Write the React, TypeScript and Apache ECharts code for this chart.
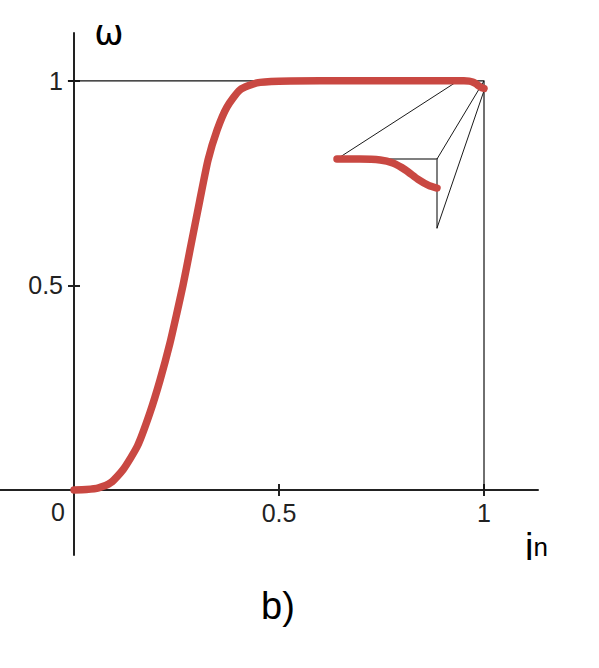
import React, { useEffect, useRef } from "react";
import * as echarts from "echarts";

// normalized current i_n and speed ω
const IN = [0, 0.03, 0.06, 0.09, 0.12, 0.155, 0.185, 0.21, 0.234, 0.251, 0.266, 0.283, 0.307, 0.327, 0.349, 0.373, 0.405, 0.446, 0.5, 0.6, 0.8, 0.9366, 0.951, 0.964, 0.972, 0.98, 0.988, 0.995, 1.0];
const OMEGA = [0, 0.001, 0.005, 0.018, 0.05, 0.108, 0.188, 0.269, 0.359, 0.433, 0.501, 0.587, 0.709, 0.807, 0.88, 0.936, 0.978, 0.995, 0.999, 1.0, 1.0, 1.0, 1.0, 0.9994, 0.9974, 0.993, 0.987, 0.983, 0.9815];
const TICKS = [0.5, 1];
const X_RANGE = [-0.1805, 1.1317];
const Y_RANGE = [-0.159, 1.117];
// zoomed region shown in the inset
const INSET_X = [0.9366, 1.0];
const INSET_Y = [0.956, 1.0];
const SRC_BOTTOM = 0.976;

const RED = "#c94842";
const AXIS = "#222";
const FONT = "Liberation Sans, Arial, sans-serif";

export default function App() {
  const ref = useRef<HTMLDivElement>(null);
  useEffect(() => {
    const chart = echarts.init(ref.current!, undefined, { renderer: "svg" });
    const main = IN.map((x, i) => [x, OMEGA[i]]);
    const tail = main.filter((p) => p[0] >= INSET_X[0] - 1e-9);
    const noSplit = { show: false };
    const tickStyle = { color: AXIS, width: 2 };
    // grid 0: full extent with axis lines through the origin
    // grid 1: origin-anchored grid carrying the tick labels
    // grid 2: inset (magnified end of the curve)
    chart.setOption({
      animation: false,
      grid: [
        { left: 0, top: 33, width: 538, height: 522, outerBoundsMode: "none", containLabel: false },
        { left: 74, top: 33, width: 464, height: 457, outerBoundsMode: "none", containLabel: false },
        { left: 337, top: 159, width: 100, height: 69, outerBoundsMode: "none", containLabel: false },
      ],
      xAxis: [
        {
          type: "value", gridIndex: 0, min: X_RANGE[0], max: X_RANGE[1], position: "bottom",
          splitLine: noSplit,
          axisLine: { show: true, onZero: true, lineStyle: { color: AXIS, width: 2 } },
          axisTick: { show: true, length: 6, customValues: TICKS, lineStyle: tickStyle },
          axisLabel: { show: false },
        },
        {
          type: "value", gridIndex: 0, min: X_RANGE[0], max: X_RANGE[1], position: "top",
          splitLine: noSplit,
          axisLine: { show: false, onZero: true },
          axisTick: { show: true, length: 6, customValues: TICKS, lineStyle: tickStyle },
          axisLabel: { show: false },
        },
        {
          type: "value", gridIndex: 1, min: 0, max: X_RANGE[1], interval: 0.5, position: "bottom",
          splitLine: noSplit,
          axisLine: { show: false, onZero: false },
          axisTick: { show: false },
          axisLabel: {
            show: true, showMinLabel: false, showMaxLabel: false,
            formatter: (v: number) => (TICKS.includes(v) ? String(v) : ""),
            fontSize: 25, fontFamily: FONT, color: AXIS, margin: 10,
          },
        },
        {
          type: "value", gridIndex: 2, min: INSET_X[0], max: INSET_X[1], position: "top",
          splitLine: noSplit,
          axisLine: { show: true, onZero: false, lineStyle: { color: "#555", width: 1.5 } },
          axisTick: { show: false }, axisLabel: { show: false },
        },
      ],
      yAxis: [
        {
          type: "value", gridIndex: 0, min: Y_RANGE[0], max: Y_RANGE[1], position: "left",
          splitLine: noSplit,
          axisLine: { show: true, onZero: true, lineStyle: { color: AXIS, width: 2 } },
          axisTick: { show: true, length: 6, customValues: TICKS, lineStyle: tickStyle },
          axisLabel: { show: false },
        },
        {
          type: "value", gridIndex: 0, min: Y_RANGE[0], max: Y_RANGE[1], position: "right",
          splitLine: noSplit,
          axisLine: { show: false, onZero: true },
          axisTick: { show: true, length: 6, customValues: TICKS, lineStyle: tickStyle },
          axisLabel: { show: false },
        },
        {
          type: "value", gridIndex: 1, min: 0, max: Y_RANGE[1], interval: 0.5, position: "left",
          splitLine: noSplit,
          axisLine: { show: false, onZero: false },
          axisTick: { show: false },
          axisLabel: {
            show: true, showMinLabel: false, showMaxLabel: false,
            formatter: (v: number) => (TICKS.includes(v) ? String(v) : ""),
            fontSize: 25, fontFamily: FONT, color: AXIS, margin: 11,
          },
        },
        {
          type: "value", gridIndex: 2, min: INSET_Y[0], max: INSET_Y[1], position: "right",
          splitLine: noSplit,
          axisLine: { show: true, onZero: false, lineStyle: { color: "#555", width: 1.5 } },
          axisTick: { show: false }, axisLabel: { show: false },
        },
      ],
      series: [
        {
          type: "line", xAxisIndex: 0, yAxisIndex: 0,
          data: [[-0.015, 1], [1, 1], [1, 0]],
          showSymbol: false,
          lineStyle: { color: "#111", width: 1.2 },
          z: 2,
        },
        {
          type: "line", xAxisIndex: 0, yAxisIndex: 0,
          data: main, smooth: 0.2, showSymbol: false,
          lineStyle: { color: RED, width: 7.5, cap: "round", join: "round" },
          z: 5,
        },
        {
          type: "line", xAxisIndex: 3, yAxisIndex: 3,
          data: tail, smooth: 0.2, clip: false, showSymbol: false,
          lineStyle: { color: RED, width: 7.5, cap: "round", join: "round" },
          z: 5,
        },
      ],
    });

    const p = (ai: number, v: number[]) => chart.convertToPixel({ xAxisIndex: ai, yAxisIndex: ai }, v) as number[];
    const pairs = [
      [p(3, [INSET_X[0], INSET_Y[1]]), p(0, [INSET_X[0], 1])],
      [p(3, [INSET_X[1], INSET_Y[1]]), p(0, [INSET_X[1], 1])],
      [p(3, [INSET_X[1], INSET_Y[0]]), p(0, [INSET_X[1], SRC_BOTTOM])],
    ];
    const lines = pairs.map(([a, b]) => ({
      type: "line",
      shape: { x1: a[0], y1: a[1], x2: b[0], y2: b[1] },
      style: { stroke: "#000", lineWidth: 0.9 },
      z: 1,
    }));
    chart.setOption({
      graphic: [
        ...lines,
        { type: "text", x: 58, y: 512, style: { text: "0", fontSize: 25, fontFamily: FONT, fill: AXIS, textAlign: "center", textVerticalAlign: "middle" } },
        { type: "text", x: 109, y: 33, style: { text: "ω", fontSize: 35, fontFamily: "DejaVu Sans", fill: "#000", textAlign: "center", textVerticalAlign: "middle" } },
        {
          type: "text", x: 525, y: 566,
          style: {
            text: "{i|i}{n|n}",
            textVerticalAlign: "bottom",
            rich: {
              i: { fontSize: 38, fontFamily: FONT, fill: "#000" },
              n: { fontSize: 26, fontFamily: FONT, fill: "#000" },
            },
          },
        },
        { type: "text", x: 278, y: 606, style: { text: "b)", fontSize: 38, fontFamily: FONT, fill: "#000", textAlign: "center", textVerticalAlign: "middle" } },
      ],
    });
    return () => chart.dispose();
  }, []);
  return <div ref={ref} style={{ position: "absolute", left: 0, top: 0, width: 599, height: 668 }} />;
}
